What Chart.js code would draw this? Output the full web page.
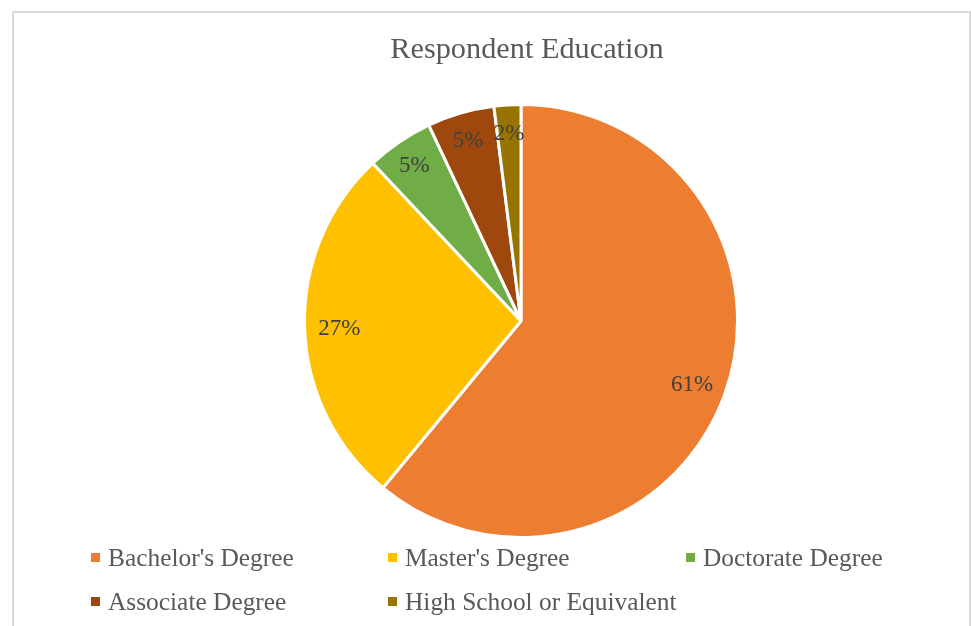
<!DOCTYPE html>
<html>
<head>
<meta charset="utf-8">
<script src="https://cdn.jsdelivr.net/npm/chart.js@4/dist/chart.umd.min.js"></script>
<style>
  html, body { margin: 0; padding: 0; background: #fff; }
  #wrap { position: relative; width: 971px; height: 626px; overflow: hidden; font-family: "Liberation Serif", "Times New Roman", serif; }
  #frame { position: absolute; left: 12px; top: 11px; width: 959px; height: 700px; border: 2px solid #d9d9d9; box-sizing: border-box; }
  #title { position: absolute; left: 0; width: 1054px; top: 30px; text-align: center; font-size: 30.3px; color: #595959; line-height: 36px; }
  #chart { position: absolute; left: 0; top: 0; width: 971px; height: 626px; }
  .item { position: absolute; display: flex; align-items: center; height: 30px; font-size: 25.4px; color: #595959; white-space: nowrap; }
  .item .mk { width: 9px; height: 9px; margin-right: 8px; flex: none; }
</style>
</head>
<body>
<div id="wrap">
  <div id="frame"></div>
  <canvas id="chart" width="971" height="626"></canvas>
  <div id="title">Respondent Education</div>
  <div id="legend"></div>
</div>
<script>
// Education levels and their share of respondents (%)
const categories = ["Bachelor's Degree", "Master's Degree", "Doctorate Degree", "Associate Degree", "High School or Equivalent"];
const shares = [61, 27, 5, 5, 2];
const sliceColors = ["#ED7D31", "#FFC000", "#70AD47", "#9E480E", "#997300"];

// Percentage labels drawn inside each slice
const sliceLabels = {
  id: 'sliceLabels',
  afterDatasetsDraw(chart) {
    const ctx = chart.ctx;
    const meta = chart.getDatasetMeta(0);
    ctx.save();
    ctx.font = '23px "Liberation Serif", serif';
    ctx.fillStyle = '#404040';
    ctx.textAlign = 'center';
    ctx.textBaseline = 'middle';
    meta.data.forEach((arc, i) => {
      const p = arc.getProps(['x', 'y', 'startAngle', 'endAngle', 'outerRadius'], true);
      const mid = (p.startAngle + p.endAngle) / 2;
      const frac = shares[i] > 20 ? 0.84 : 0.877;
      const r = p.outerRadius * frac;
      ctx.fillText(shares[i] + '%', p.x + Math.cos(mid) * r, p.y + Math.sin(mid) * r + 2);
    });
    ctx.restore();
  }
};

new Chart(document.getElementById('chart'), {
  type: 'pie',
  data: {
    labels: categories,
    datasets: [{
      data: shares,
      backgroundColor: sliceColors,
      borderColor: '#ffffff',
      borderWidth: 3
    }]
  },
  options: {
    responsive: false,
    animation: false,
    layout: { padding: { top: 103, bottom: 87, left: 300, right: 229 } },
    plugins: {
      legend: { display: false },
      tooltip: { enabled: false },
      title: { display: false }
    }
  },
  plugins: [sliceLabels]
});

// Legend laid out in a three-column grid under the pie
const legendCols = [91, 388, 686];
const legendRows = [542, 586];
const legend = document.getElementById('legend');
categories.forEach((name, i) => {
  const item = document.createElement('div');
  item.className = 'item';
  item.style.left = legendCols[i % 3] + 'px';
  item.style.top = legendRows[Math.floor(i / 3)] + 'px';
  const mk = document.createElement('span');
  mk.className = 'mk';
  mk.style.background = sliceColors[i];
  const tx = document.createElement('span');
  tx.textContent = name;
  item.appendChild(mk);
  item.appendChild(tx);
  legend.appendChild(item);
});
</script>
</body>
</html>
